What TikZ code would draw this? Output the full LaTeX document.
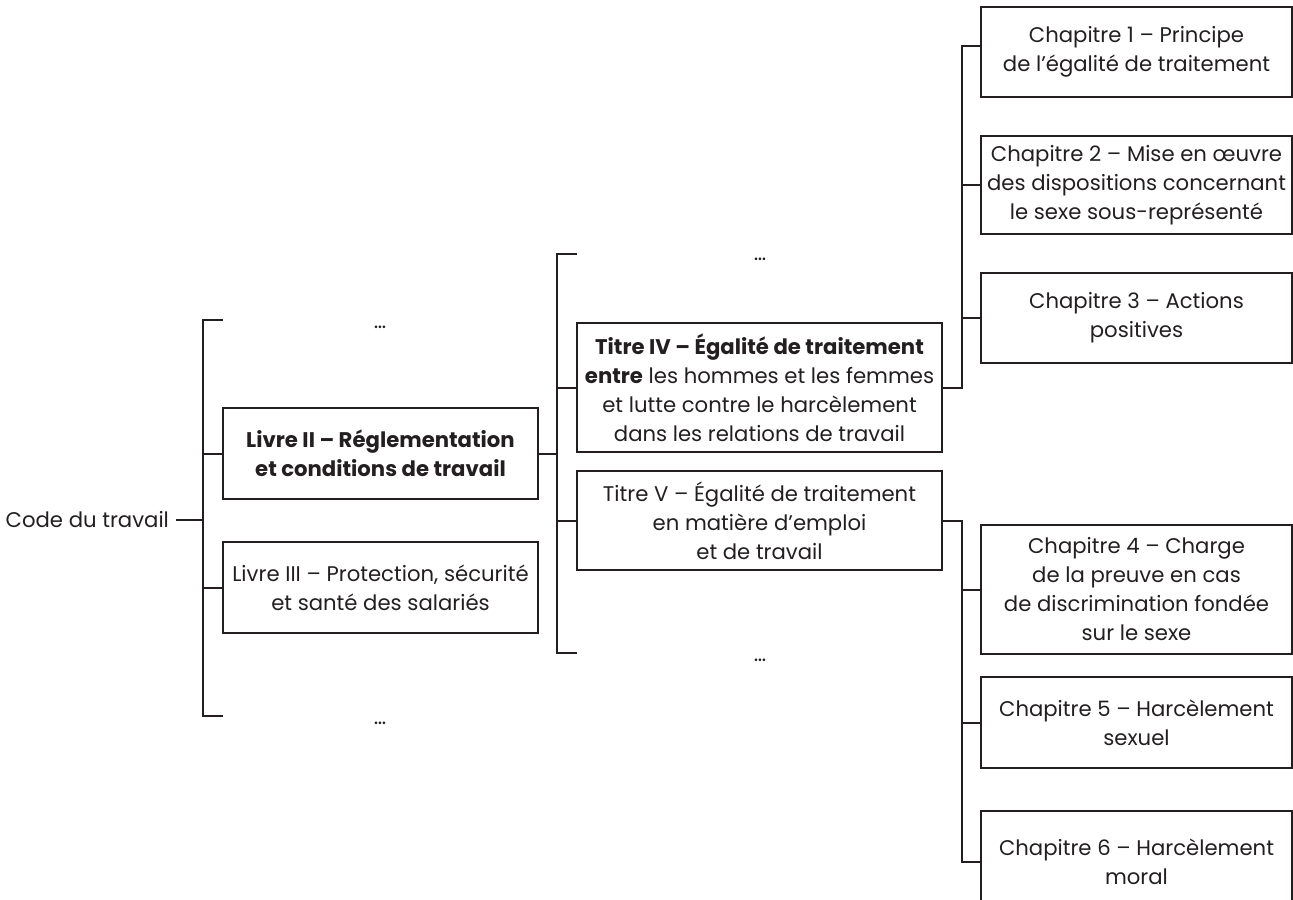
\documentclass[tikz,border=0pt]{standalone}
\usepackage{fontspec}
\setmainfont{Poppins}
\usepackage{tikz}
\usepackage{xcolor}
\usetikzlibrary{calc, positioning}
\definecolor{ink}{HTML}{231F20}

\begin{document}
\begin{tikzpicture}[x=0.5pt, y=-0.5pt, font=\fontsize{10.6}{14.5}\selectfont, text=ink,
    box/.style={draw=ink, line width=1pt, align=center, inner sep=2pt},
    livre/.style={box, minimum width=157.5pt},
    titre/.style={box, minimum width=182.5pt},
    chap/.style={box, minimum width=155.5pt},
    link/.style={draw=ink, line width=1pt}]
  \useasboundingbox (0,0) rectangle (1293,899);
  % root
  \node[anchor=east] (code) at (176,520) {Code du travail};
  % livres
  \node[livre, minimum height=45.5pt] (livre2) at (380.5,453.5)
    {\textbf{Livre II – Réglementation}\\\textbf{et conditions de travail}};
  \node[livre, minimum height=45.5pt] (livre3) at (380.5,587.5)
    {Livre III – Protection, sécurité\\et santé des salariés};
  \node (dotsL1) at (380,327) {…};
  \node (dotsL2) at (380,723) {…};
  % titres
  \node[titre, minimum height=64.5pt] (titre4) at (759.5,387.5)
    {\textbf{Titre IV – Égalité de traitement}\\\textbf{entre} les hommes et les femmes\\et lutte contre le harcèlement\\dans les relations de travail};
  \node[titre, minimum height=49.5pt] (titre5) at (759.5,520.5)
    {Titre V – Égalité de traitement\\en matière d’emploi\\et de travail};
  \node (dotsT1) at (760,259) {…};
  \node (dotsT2) at (760,660) {…};
  % chapitres of titre IV
  \node[chap, minimum height=45pt] (ch1) at (1136.5,52)
    {Chapitre 1 – Principe\\de l’égalité de traitement};
  \node[chap, minimum height=49pt] (ch2) at (1136.5,185)
    {Chapitre 2 – Mise en œuvre\\des dispositions concernant\\le sexe sous-représenté};
  \node[chap, minimum height=45pt] (ch3) at (1136.5,318)
    {Chapitre 3 – Actions\\positives};
  % chapitres of titre V
  \node[chap, minimum height=64.5pt] (ch4) at (1136.5,589.5)
    {Chapitre 4 – Charge\\de la preuve en cas\\de discrimination fondée\\sur le sexe};
  \node[chap, minimum height=45.5pt] (ch5) at (1136.5,722.5)
    {Chapitre 5 – Harcèlement\\sexuel};
  \node[chap, minimum height=51pt] (ch6) at (1136.5,862)
    {Chapitre 6 – Harcèlement\\moral};

  % bracket: code -> livres
  \coordinate (brA) at (203,520);
  \coordinate (l1top) at (223,320);
  \coordinate (l1bot) at (223,716);
  \draw[link] (code.east) -- (brA);
  \draw[link] (l1top) -| (brA |- l1bot) -- (l1bot);
  \draw[link] (livre2.west) -- (brA |- livre2.west);
  \draw[link] (livre3.west) -- (brA |- livre3.west);
  % bracket: livre II -> titres
  \coordinate (brB) at (557,453.5);
  \coordinate (t1top) at (577,254);
  \coordinate (t1bot) at (577,653);
  \draw[link] (livre2.east) -- (brB);
  \draw[link] (t1top) -| (brB |- t1bot) -- (t1bot);
  \draw[link] (titre4.west) -- (brB |- titre4.west);
  \draw[link] (titre5.west) -- (brB |- titre5.west);
  % bracket: titre IV -> chapitres 1-3
  \coordinate (brC) at (962,387.5);
  \coordinate (c1) at (981,46);
  \draw[link] (titre4.east) -- (brC) |- (c1);
  \draw[link] (ch2.west) -- (brC |- ch2.west);
  \draw[link] (ch3.west) -- (brC |- ch3.west);
  % bracket: titre V -> chapitres 4-6
  \coordinate (brD) at (962,520.5);
  \draw[link] (titre5.east) -- (brD) |- (ch6.west);
  \draw[link] (ch4.west) -- (brD |- ch4.west);
  \draw[link] (ch5.west) -- (brD |- ch5.west);
\end{tikzpicture}
\end{document}
